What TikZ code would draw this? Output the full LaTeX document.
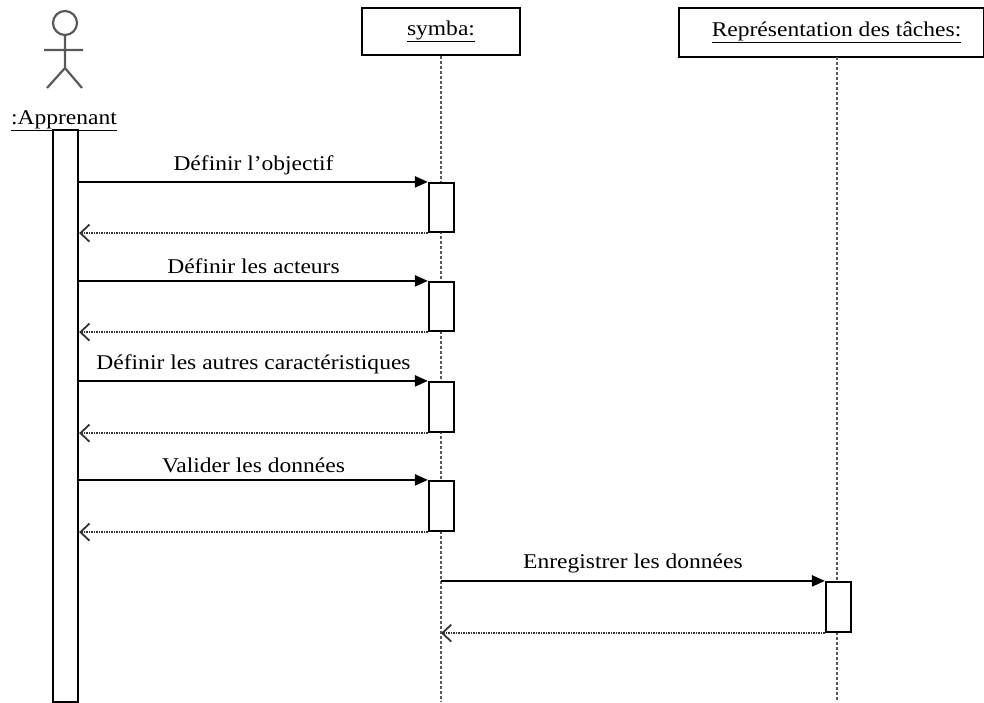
\documentclass[tikz,border=0pt]{standalone}
\usepackage{fontspec}
\setmainfont{Liberation Serif}[FakeStretch=1.12]
\usetikzlibrary{arrows.meta}

\begin{document}
\begin{tikzpicture}[x=1pt,y=-1pt,
	font=\fontsize{21}{23}\selectfont,
	objbox/.style={shape=rectangle,draw=black,line width=2.2pt,inner sep=0pt},
	actbar/.style={shape=rectangle,draw=black,fill=white,line width=2.2pt,minimum width=25pt,inner sep=0pt},
	lifeline/.style={draw=black!65,line width=2.2pt,dash pattern=on 3pt off 2pt},
	msg/.style={-{Triangle[length=13pt,width=11pt]},draw=black,line width=2.2pt},
	reply/.style={-{Straight Barb[length=9pt,width=17pt]},draw=black!80,line width=1.8pt,dash pattern=on 1.5pt off 1pt}]
	
	\useasboundingbox (0,0) rectangle (984,702);
	
	% actor
	\draw[line width=2.2pt,black!65] (65,23) circle (12);
	\draw[line width=2.2pt,black!65] (65,35) -- (65,68) (44,50) -- (83,50)
		(47,88) -- (65,68) -- (82,88);
	\node[anchor=base] (actor) at (64,124) {\underline{:Apprenant}};
	
	% objects
	\node[objbox,minimum width=158pt,minimum height=47pt] (symba) at (441,31.5) {\underline{symba:}};
	\node[objbox,minimum width=305pt,minimum height=49pt] (rep) at (831.5,32.5) {\hspace{10pt}\underline{Représentation des tâches:}};
	
	\coordinate (symbaend) at (441,702);
	\coordinate (reptop) at (837,57);
	\coordinate (repend) at (837,702);
	
	\path (symba) edge[lifeline] (symbaend);
	\path (reptop) edge[lifeline] (repend);
	
	% activations
	\node[actbar,minimum height=572pt] (appbar) at (65.5,416) {};
	\node[actbar,minimum height=49pt] (act1) at (441.5,207.5) {};
	\node[actbar,minimum height=49pt] (act2) at (441.5,306.5) {};
	\node[actbar,minimum height=50pt] (act3) at (441.5,407) {};
	\node[actbar,minimum height=50pt] (act4) at (441.5,506) {};
	\node[actbar,minimum height=50pt] (act5) at (838.5,607) {};
	
	% messages
	\path (appbar.east |- act1.north) edge[msg] node[above=3pt] {Définir l'objectif} (act1.north west);
	\path (act1.south west) edge[reply] (appbar.east |- act1.south);
	\path (appbar.east |- act2.north) edge[msg] node[above=3pt] {Définir les acteurs} (act2.north west);
	\path (act2.south west) edge[reply] (appbar.east |- act2.south);
	\path (appbar.east |- act3.north) edge[msg] node[above=3pt] {Définir les autres caractéristiques} (act3.north west);
	\path (act3.south west) edge[reply] (appbar.east |- act3.south);
	\path (appbar.east |- act4.north) edge[msg] node[above=3pt] {Valider les données} (act4.north west);
	\path (act4.south west) edge[reply] (appbar.east |- act4.south);
	\path (symba |- act5.north) edge[msg] node[above=3pt] {Enregistrer les données} (act5.north west);
	\path (act5.south west) edge[reply] (symba |- act5.south);
	
\end{tikzpicture}
\end{document}
